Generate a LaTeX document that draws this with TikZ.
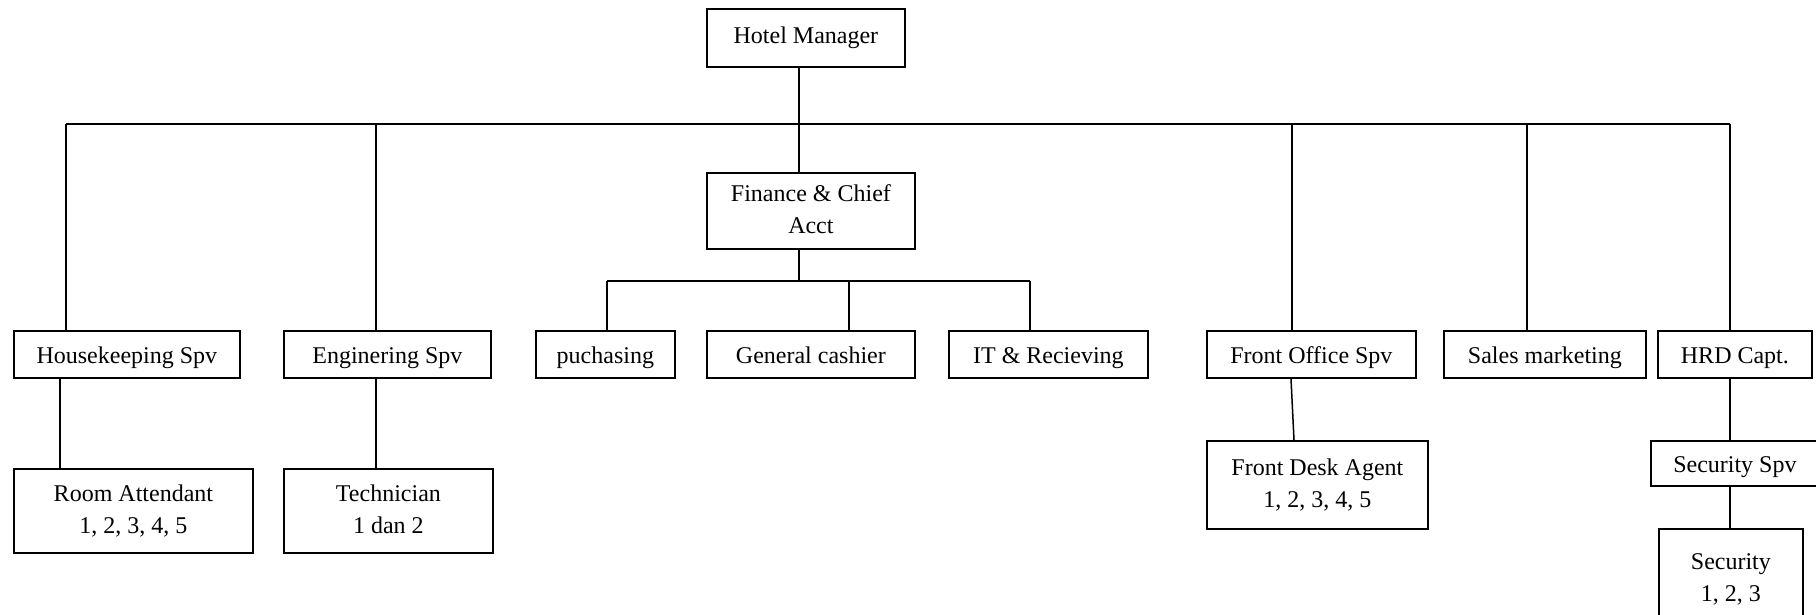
\documentclass[tikz,border=0pt]{standalone}
\usepackage{fontspec}
\setmainfont{Liberation Serif}
\begin{document}
\begin{tikzpicture}[x=1pt,y=-1pt,
  box/.style={draw=black, line width=1.8pt, inner sep=0pt, anchor=north west, align=center,
    font=\fontsize{24}{32}\selectfont},
  onebox/.style={box, text height=21pt, text depth=3pt},
  conn/.style={draw=black, line width=1.5pt}]
\useasboundingbox (0,0) rectangle (1816,614);
\clip (0,0) rectangle (1816,614);
\fill[white] (0,0) rectangle (1816,614);
% boxes
\node[box, minimum width=198pt, minimum height=58pt] (hm) at (706,8) {Hotel Manager};
\node[box, minimum width=208pt, minimum height=76pt] (fin) at (706,172) {Finance \& Chief\\Acct\vphantom{,}};
\node[onebox, minimum width=226pt, minimum height=47pt] (hk) at (13,330) {Housekeeping Spv};
\node[onebox, minimum width=207pt, minimum height=47pt] (eng) at (283,330) {Enginering Spv};
\node[onebox, minimum width=139pt, minimum height=47pt] (puc) at (535,330) {puchasing};
\node[onebox, minimum width=208pt, minimum height=47pt] (gc) at (706,330) {General cashier};
\node[onebox, minimum width=199pt, minimum height=47pt] (it) at (948,330) {IT \& Recieving};
\node[onebox, minimum width=209pt, minimum height=47pt] (fos) at (1206,330) {Front Office Spv};
\node[onebox, minimum width=202pt, minimum height=47pt] (sales) at (1443,330) {Sales marketing};
\node[onebox, minimum width=154pt, minimum height=47pt] (hrd) at (1657,330) {HRD Capt.};
\node[box, minimum width=239pt, minimum height=84pt] (ra) at (13,468) {Room Attendant\\1, 2, 3, 4, 5};
\node[box, minimum width=209pt, minimum height=84pt] (tech) at (283,468) {Technician\\1 dan 2\vphantom{,}};
\node[box, minimum width=221pt, minimum height=88pt] (fda) at (1206,440) {Front Desk Agent\\1, 2, 3, 4, 5};
\node[onebox, minimum width=168pt, minimum height=45pt] (secspv) at (1650,440) {Security Spv};
\node[box, minimum width=144pt, minimum height=100pt] (sec) at (1658,528) {Security\\1, 2, 3};
% junction coordinates
\coordinate (jl) at (66,124);
\coordinate (je) at (376,124);
\coordinate (jm) at (799,124);
\coordinate (jf) at (1292,124);
\coordinate (js) at (1527,124);
\coordinate (jr) at (1730,124);
\coordinate (fl) at (607,281);
\coordinate (fm) at (849,281);
\coordinate (fr) at (1030,281);
% connectors
\draw[conn] (jl) -- (jr);
\draw[conn] (jm |- hm.south) -- (jm |- fin.north);
\draw[conn] (jl) -- (jl |- hk.north);
\draw[conn] (je) -- (je |- eng.north);
\draw[conn] (jf) -- (jf |- fos.north);
\draw[conn] (js) -- (js |- sales.north);
\draw[conn] (jr) -- (jr |- hrd.north);
\draw[conn] (jm |- fin.south) -- (jm |- fl);
\draw[conn] (fl) -- (fr);
\draw[conn] (fl) -- (fl |- puc.north);
\draw[conn] (fm) -- (fm |- gc.north);
\draw[conn] (fr) -- (fr |- it.north);
\draw[conn] ([xshift=47pt]hk.south west) -- ([xshift=47pt]ra.north west);
\draw[conn] ([xshift=93pt]eng.south west) -- ([xshift=93pt]tech.north west);
\draw[conn] ([xshift=85pt]fos.south west) -- ([xshift=88pt]fda.north west);
\draw[conn] (jr |- hrd.south) -- (jr |- secspv.north);
\draw[conn] (jr |- secspv.south) -- (jr |- sec.north);
\end{tikzpicture}
\end{document}
